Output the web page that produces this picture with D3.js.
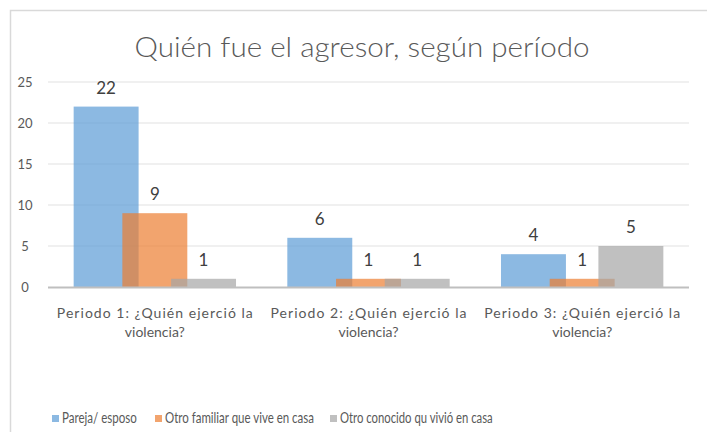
<!DOCTYPE html>
<html>
<head>
<meta charset="utf-8">
<script src="https://cdn.jsdelivr.net/npm/d3@7"></script>
<style>
  body { margin: 0; background: #fff; }
  text { font-family: Lato, "Open Sans", sans-serif; }
</style>
</head>
<body>
<script>
const categories = [
  'Periodo 1: ¿Quién ejerció la violencia?',
  'Periodo 2: ¿Quién ejerció la violencia?',
  'Periodo 3: ¿Quién ejerció la violencia?',
]
const seriesNames = ['Pareja/ esposo', 'Otro familiar que vive en casa', 'Otro conocido qu vivió en casa']
const pareja = [22, 6, 4]
const familiar = [9, 1, 1]
const conocido = [1, 1, 5]
const yTicks = [0, 5, 10, 15, 20, 25]

const width = 707
const height = 432
const colors = ['#5B9BD5', '#ED7D31', '#A5A5A5']
const values = [pareja, familiar, conocido]

const svg = d3.select('body').append('svg')
  .attr('width', width)
  .attr('height', height)

// chart border (runs off the picture at right and bottom)
svg.append('rect')
  .attr('x', 10.5).attr('y', 10.5)
  .attr('width', 720).attr('height', 440)
  .attr('fill', 'none')
  .attr('stroke', '#D9D9D9')
  .attr('stroke-width', 1.5)

svg.append('text')
  .attr('x', 362)
  .attr('y', 57)
  .attr('text-anchor', 'middle')
  .attr('fill', '#595959')
  .attr('textLength', 455)
  .attr('lengthAdjust', 'spacingAndGlyphs')
  .style('font-size', '28px')
  .style('font-weight', 300)
  .text('Quién fue el agresor, según período')

const x = d3.scaleBand()
  .domain(categories)
  .range([48, 689])

const y = d3.scaleLinear()
  .domain([0, 25])
  .range([287, 82])

// gridlines
svg.append('g')
  .selectAll('line')
  .data(yTicks.slice(1))
  .join('line')
  .attr('x1', 48).attr('x2', 689)
  .attr('y1', d => y(d)).attr('y2', d => y(d))
  .attr('stroke', '#EBEBEB')
  .attr('stroke-width', 1.3)

// y tick labels
svg.append('g')
  .selectAll('text')
  .data(yTicks)
  .join('text')
  .attr('x', 25)
  .attr('y', d => y(d))
  .attr('dy', '0.35em')
  .attr('text-anchor', 'middle')
  .attr('fill', '#595959')
  .style('font-size', '13px')
  .text(d => d)

// bars: overlap 25%, gap width ~79%
const n = 3
const barW = x.bandwidth() / (n - (n - 1) * 0.25 + 0.79)
const step = barW * 0.75
const groupW = barW + step * (n - 1)

const series = svg.append('g')
  .selectAll('g')
  .data(values.map((v, i) => ({ i, v })))
  .join('g')
  .attr('fill', d => colors[d.i])
  .attr('fill-opacity', 0.7)

series.selectAll('rect')
  .data(d => d.v.map((val, j) => ({ i: d.i, val, cat: categories[j] })))
  .join('rect')
  .attr('x', d => x(d.cat) + (x.bandwidth() - groupW) / 2 + d.i * step)
  .attr('y', d => y(d.val))
  .attr('width', barW)
  .attr('height', d => y(0) - y(d.val))

// axis line
svg.append('line')
  .attr('x1', 48).attr('x2', 689)
  .attr('y1', 287.5).attr('y2', 287.5)
  .attr('stroke', '#BFBFBF')
  .attr('stroke-width', 2)

// data labels
const labels = []
values.forEach((v, i) => v.forEach((val, j) => labels.push({ i, val, cat: categories[j] })))
svg.append('g')
  .selectAll('text')
  .data(labels)
  .join('text')
  .attr('x', d => x(d.cat) + (x.bandwidth() - groupW) / 2 + d.i * step + barW / 2)
  .attr('y', d => y(d.val) - 13)
  .attr('text-anchor', 'middle')
  .attr('fill', '#404040')
  .style('font-size', '17px')
  .text(d => d.val)

// category labels (two lines)
const cat = svg.append('g')
  .selectAll('text')
  .data(categories)
  .join('text')
  .attr('text-anchor', 'middle')
  .attr('fill', '#595959')
  .style('font-size', '14px')

cat.append('tspan')
  .attr('x', d => x(d) + x.bandwidth() / 2)
  .attr('y', 318)
  .attr('textLength', 196)
  .attr('lengthAdjust', 'spacing')
  .text(d => d.split(' ').slice(0, 5).join(' '))

cat.append('tspan')
  .attr('x', d => x(d) + x.bandwidth() / 2)
  .attr('y', 337)
  .text(d => d.split(' ').slice(5).join(' '))

// legend (text is condensed in the reference, so squeeze it horizontally)
const legendX = [52, 155, 330]
const legendW = [75, 149, 153]
const lg = svg.append('g')
  .selectAll('g')
  .data(seriesNames)
  .join('g')
  .attr('transform', (d, i) => `translate(${legendX[i]}, 415)`)

lg.append('rect')
  .attr('width', 7)
  .attr('height', 7)
  .attr('fill', (d, i) => colors[i])
  .attr('fill-opacity', 0.7)

lg.append('text')
  .attr('fill', '#595959')
  .style('font-size', '15px')
  .text(d => d)
  .each(function (d, i) {
    const k = legendW[i] / this.getComputedTextLength()
    d3.select(this).attr('transform', `translate(10, 8) scale(${k}, 1)`)
  })
</script>
</body>
</html>
